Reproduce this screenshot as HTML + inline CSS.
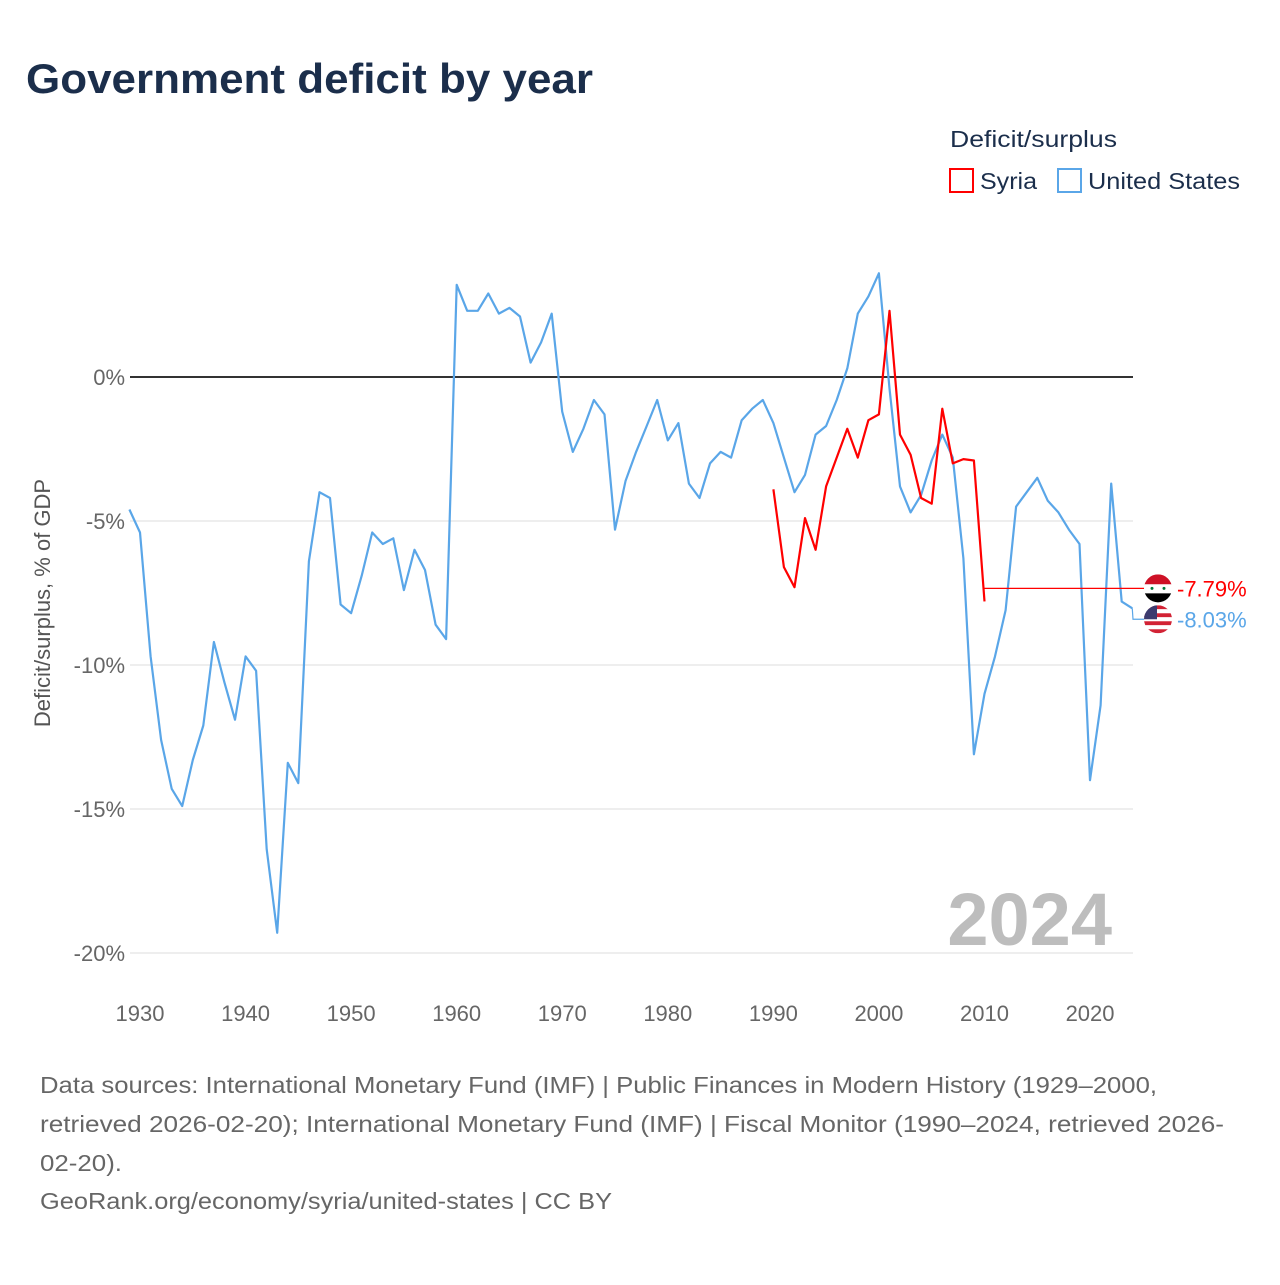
<!DOCTYPE html>
<html><head><meta charset="utf-8"><style>
body{margin:0;width:1280px;height:1280px;background:#fff;font-family:"Liberation Sans",sans-serif;overflow:hidden}
</style></head><body>
<svg id="chart" width="1280" height="1280" xmlns="http://www.w3.org/2000/svg" font-family="Liberation Sans, sans-serif">
<text x="26" y="93" font-size="42" font-weight="bold" fill="#1b2e4b" textLength="567" lengthAdjust="spacingAndGlyphs">Government deficit by year</text>
<text x="950" y="147" font-size="23" fill="#1b2e4b" textLength="167" lengthAdjust="spacingAndGlyphs">Deficit/surplus</text>
<g><rect x="950" y="169" width="23" height="23" fill="none" stroke="#ff0000" stroke-width="2"/><text x="980" y="189" font-size="23" fill="#1b2e4b" textLength="57" lengthAdjust="spacingAndGlyphs">Syria</text></g>
<g><rect x="1058" y="169" width="23" height="23" fill="none" stroke="#5aa6e8" stroke-width="2"/><text x="1088" y="189" font-size="23" fill="#1b2e4b" textLength="152" lengthAdjust="spacingAndGlyphs">United States</text></g>
<text transform="translate(50,603) rotate(-90)" text-anchor="middle" font-size="22" fill="#555">Deficit/surplus, % of GDP</text>
<g id="grid"></g><g id="marks"></g>
<text x="1112" y="945" text-anchor="end" font-size="74" font-weight="bold" fill="#bdbdbd">2024</text>
<g font-size="23" fill="#666">
<text x="40" y="1093" textLength="1117" lengthAdjust="spacingAndGlyphs">Data sources: International Monetary Fund (IMF) | Public Finances in Modern History (1929–2000,</text>
<text x="40" y="1132" textLength="1184" lengthAdjust="spacingAndGlyphs">retrieved 2026-02-20); International Monetary Fund (IMF) | Fiscal Monitor (1990–2024, retrieved 2026-</text>
<text x="40" y="1171" textLength="82" lengthAdjust="spacingAndGlyphs">02-20).</text>
<text x="40" y="1209" textLength="572" lengthAdjust="spacingAndGlyphs">GeoRank.org/economy/syria/united-states | CC BY</text>
</g>
</svg>
<script>
const usStartYear = 1929;
const usValues = [-4.6,-5.4,-9.7,-12.6,-14.3,-14.9,-13.3,-12.1,-9.2,-10.6,-11.9,-9.7,-10.2,-16.4,-19.3,-13.4,-14.1,-6.4,-4.0,-4.2,-7.9,-8.2,-6.9,-5.4,-5.8,-5.6,-7.4,-6.0,-6.7,-8.6,-9.1,3.2,2.3,2.3,2.9,2.2,2.4,2.1,0.5,1.2,2.2,-1.2,-2.6,-1.8,-0.8,-1.3,-5.3,-3.6,-2.6,-1.7,-0.8,-2.2,-1.6,-3.7,-4.2,-3.0,-2.6,-2.8,-1.5,-1.1,-0.8,-1.6,-2.8,-4.0,-3.4,-2.0,-1.7,-0.8,0.3,2.2,2.8,3.6,-0.4,-3.8,-4.7,-4.1,-2.9,-2.0,-2.8,-6.3,-13.1,-11.0,-9.7,-8.1,-4.5,-4.0,-3.5,-4.3,-4.7,-5.3,-5.8,-14.0,-11.4,-3.7,-7.8,-8.03];
const syriaStartYear = 1990;
const syriaValues = [-3.9,-6.6,-7.3,-4.9,-6.0,-3.8,-2.8,-1.8,-2.8,-1.5,-1.3,2.3,-2.0,-2.7,-4.2,-4.4,-1.1,-3.0,-2.85,-2.9,-7.79];
const yTicks = [0,-5,-10,-15,-20];
const xTicks = [1930,1940,1950,1960,1970,1980,1990,2000,2010,2020];
const NS="http://www.w3.org/2000/svg";
const x = yr => 140 + (yr-1930)*10.556;
const y = v => 377 - v*28.8;
const grid=document.getElementById('grid'), marks=document.getElementById('marks');
function mk(tag,attrs,parent){const e=document.createElementNS(NS,tag);for(const k in attrs)e.setAttribute(k,attrs[k]);parent.appendChild(e);return e;}
yTicks.forEach(t=>{
  const l=mk('line',{x1:130,x2:1133,y1:y(t),y2:y(t),stroke:t===0?'#333':'#e8e8e8','stroke-width':t===0?2:1.5},grid);
  
  
  const tx=mk('text',{x:125,y:y(t)+8,'text-anchor':'end','font-size':22,fill:'#666'},grid);
  tx.textContent=t+'%';
  
  
});
xTicks.forEach(t=>{
  const tx=mk('text',{x:x(t),y:1021,'text-anchor':'middle','font-size':22,fill:'#666'},grid);
  tx.textContent=t;
  
  
});
function series(start,vals,color,name){
  const pts=vals.map((v,i)=>x(start+i).toFixed(1)+','+y(v).toFixed(1)).join(' ');
  const p=mk('polyline',{points:pts,fill:'none',stroke:color,'stroke-width':2.2,'stroke-linejoin':'round'},marks);
  
  
}
series(usStartYear,usValues,'#5aa6e8','us-line');
series(syriaStartYear,syriaValues,'#ff0000','syria-line');
const sLast=syriaValues[syriaValues.length-1], uLast=usValues[usValues.length-1];
const sy=y(sLast)-13, uy=y(uLast)+11;
const sc=mk('polyline',{points:`${x(2010)},${sy} 1145,${sy}`,fill:'none',stroke:'#ff0000','stroke-width':1.2},marks);


const uc=mk('polyline',{points:`${x(2024)},${y(uLast)} 1133,${uy} 1145,${uy}`,fill:'none',stroke:'#5aa6e8','stroke-width':1.2},marks);


const defs=mk('defs',{},marks);
const c1=mk('clipPath',{id:'cs'},defs);mk('circle',{cx:1158,cy:sy,r:14},c1);
const c2=mk('clipPath',{id:'cu'},defs);mk('circle',{cx:1158,cy:uy,r:14},c2);
const fs=mk('g',{'clip-path':'url(#cs)'},marks);


mk('rect',{x:1144,y:sy-14,width:28,height:10,fill:'#ce1126'},fs);
mk('rect',{x:1144,y:sy-4,width:28,height:9,fill:'#fff'},fs);
mk('rect',{x:1144,y:sy+5,width:28,height:10,fill:'#000'},fs);
mk('circle',{cx:1152,cy:sy,r:1.5,fill:'#007a3d'},fs);mk('circle',{cx:1164,cy:sy,r:1.5,fill:'#007a3d'},fs);
const fu=mk('g',{'clip-path':'url(#cu)'},marks);


for(let i=0;i<7;i++) mk('rect',{x:1144,y:uy-14+i*4,width:28,height:4,fill:i%2?'#fff':'#d22234'},fu);
mk('rect',{x:1144,y:uy-14,width:13,height:14,fill:'#3c3b6e'},fu);
const ls=mk('text',{x:1177,y:sy+8,'font-size':22,fill:'#ff0000'},marks);
ls.textContent=sLast.toFixed(2)+'%';


const lu=mk('text',{x:1177,y:uy+8,'font-size':22,fill:'#5aa6e8'},marks);
lu.textContent=uLast.toFixed(2)+'%';


</script>
</body></html>
